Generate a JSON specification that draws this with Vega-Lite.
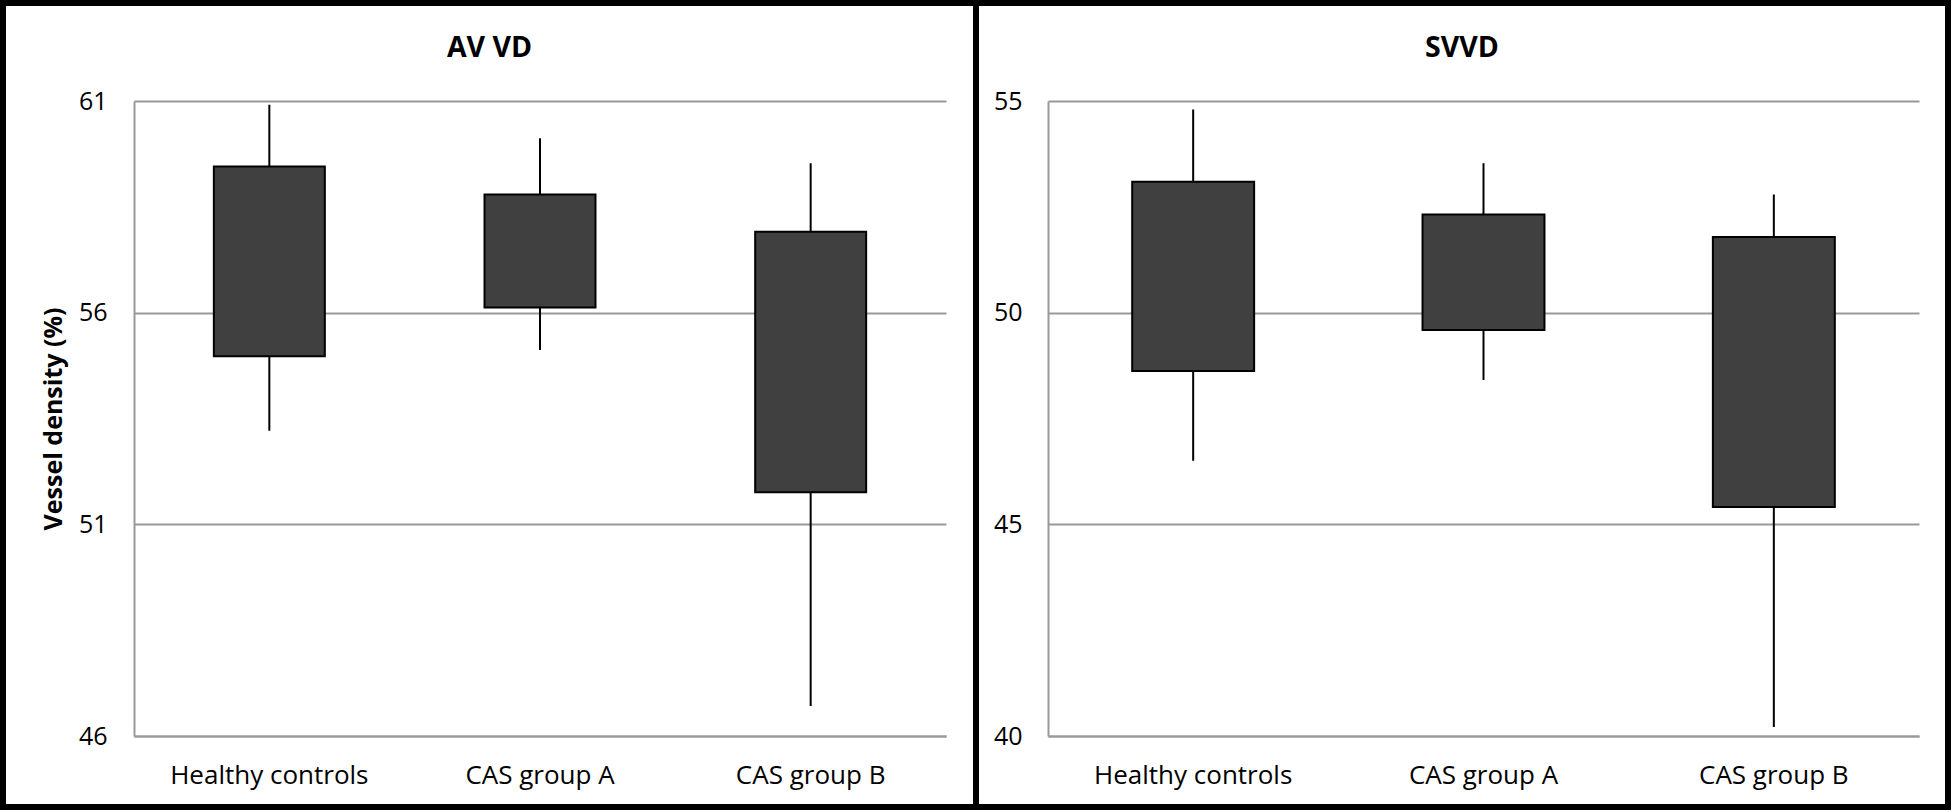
{
  "$schema": "https://vega.github.io/schema/vega-lite/v6.json",
  "padding": 0,
  "spacing": 0,
  "bounds": "flush",
  "background": "white",
  "config": {
    "view": {"stroke": "black", "strokeWidth": 6},
    "font": "Open Sans",
    "axis": {
      "labelColor": "black",
      "labelFontSize": 25,
      "labelFont": "Open Sans",
      "labelLimit": 0,
      "titleColor": "black",
      "ticks": false,
      "tickSize": 0,
      "domainColor": "#999999",
      "domainWidth": 2,
      "gridColor": "#999999",
      "gridWidth": 2
    }
  },
  "hconcat": [
    {
      "width": 973,
      "height": 804,
      "title": {"text": "AV VD", "fontSize": 28.5, "fontWeight": "bold", "color": "black", "anchor": "middle", "frame": "group", "offset": -43, "baseline": "middle", "dy": 30},
      "data": {"values": [
        {"group": "Healthy controls", "min": 53.21, "q1": 54.97, "q3": 59.45, "max": 60.91},
        {"group": "CAS group A", "min": 55.12, "q1": 56.12, "q3": 58.79, "max": 60.12},
        {"group": "CAS group B", "min": 46.71, "q1": 51.76, "q3": 57.91, "max": 59.53}
      ]},
      "encoding": {
        "x": {"field": "group", "type": "nominal", "sort": null,
          "scale": {"range": [131, 943], "paddingInner": 0.59, "paddingOuter": 0.295},
          "axis": {"title": null, "offset": -71, "labelAngle": 0, "labelPadding": 47, "labelBaseline": "alphabetic", "grid": false, "labelFontSize": 26, "labelLimit": 0}}
      },
      "layer": [
        {
          "mark": {"type": "rule", "color": "black", "strokeWidth": 2},
          "encoding": {
            "y": {"field": "min", "type": "quantitative", "title": "Vessel density (%)",
              "scale": {"domain": [46, 61], "range": [733, 98], "nice": false, "zero": false},
              "axis": {"offset": -131, "values": [46, 51, 56, 61], "labelPadding": 27, "grid": true,
                "titleFontSize": 25, "titleFontWeight": "bold", "titleX": -81, "titleY": 415.5, "titleAngle": 270, "titleBaseline": "middle", "titleAlign": "center"}},
            "y2": {"field": "max"}
          }
        },
        {
          "mark": {"type": "bar", "fill": "#404040", "stroke": "black", "strokeWidth": 2},
          "encoding": {
            "y": {"field": "q1", "type": "quantitative", "title": "Vessel density (%)",
              "scale": {"domain": [46, 61], "range": [733, 98], "nice": false, "zero": false},
              "axis": {"offset": -131, "values": [46, 51, 56, 61], "labelPadding": 27, "grid": true,
                "titleFontSize": 25, "titleFontWeight": "bold", "titleX": -81, "titleY": 415.5, "titleAngle": 270, "titleBaseline": "middle", "titleAlign": "center"}},
            "y2": {"field": "q3"}
          }
        }
      ]
    },
    {
      "width": 972,
      "height": 804,
      "title": {"text": "SVVD", "fontSize": 28.5, "fontWeight": "bold", "color": "black", "anchor": "middle", "frame": "group", "offset": -43, "baseline": "middle", "dy": 30},
      "data": {"values": [
        {"group": "Healthy controls", "min": 46.5, "q1": 48.62, "q3": 53.09, "max": 54.8},
        {"group": "CAS group A", "min": 48.41, "q1": 49.59, "q3": 52.32, "max": 53.53},
        {"group": "CAS group B", "min": 40.21, "q1": 45.41, "q3": 51.79, "max": 52.79}
      ]},
      "encoding": {
        "x": {"field": "group", "type": "nominal", "sort": null,
          "scale": {"range": [72, 943], "paddingInner": 0.58, "paddingOuter": 0.29},
          "axis": {"title": null, "offset": -71, "labelAngle": 0, "labelPadding": 47, "labelBaseline": "alphabetic", "grid": false, "labelFontSize": 26, "labelLimit": 0}}
      },
      "layer": [
        {
          "mark": {"type": "rule", "color": "black", "strokeWidth": 2},
          "encoding": {
            "y": {"field": "min", "type": "quantitative", "title": null,
              "scale": {"domain": [40, 55], "range": [733, 98], "nice": false, "zero": false},
              "axis": {"offset": -72, "values": [40, 45, 50, 55], "labelPadding": 26, "grid": true}},
            "y2": {"field": "max"}
          }
        },
        {
          "mark": {"type": "bar", "fill": "#404040", "stroke": "black", "strokeWidth": 2},
          "encoding": {
            "y": {"field": "q1", "type": "quantitative", "title": null,
              "scale": {"domain": [40, 55], "range": [733, 98], "nice": false, "zero": false},
              "axis": {"offset": -72, "values": [40, 45, 50, 55], "labelPadding": 26, "grid": true}},
            "y2": {"field": "q3"}
          }
        }
      ]
    }
  ]
}
